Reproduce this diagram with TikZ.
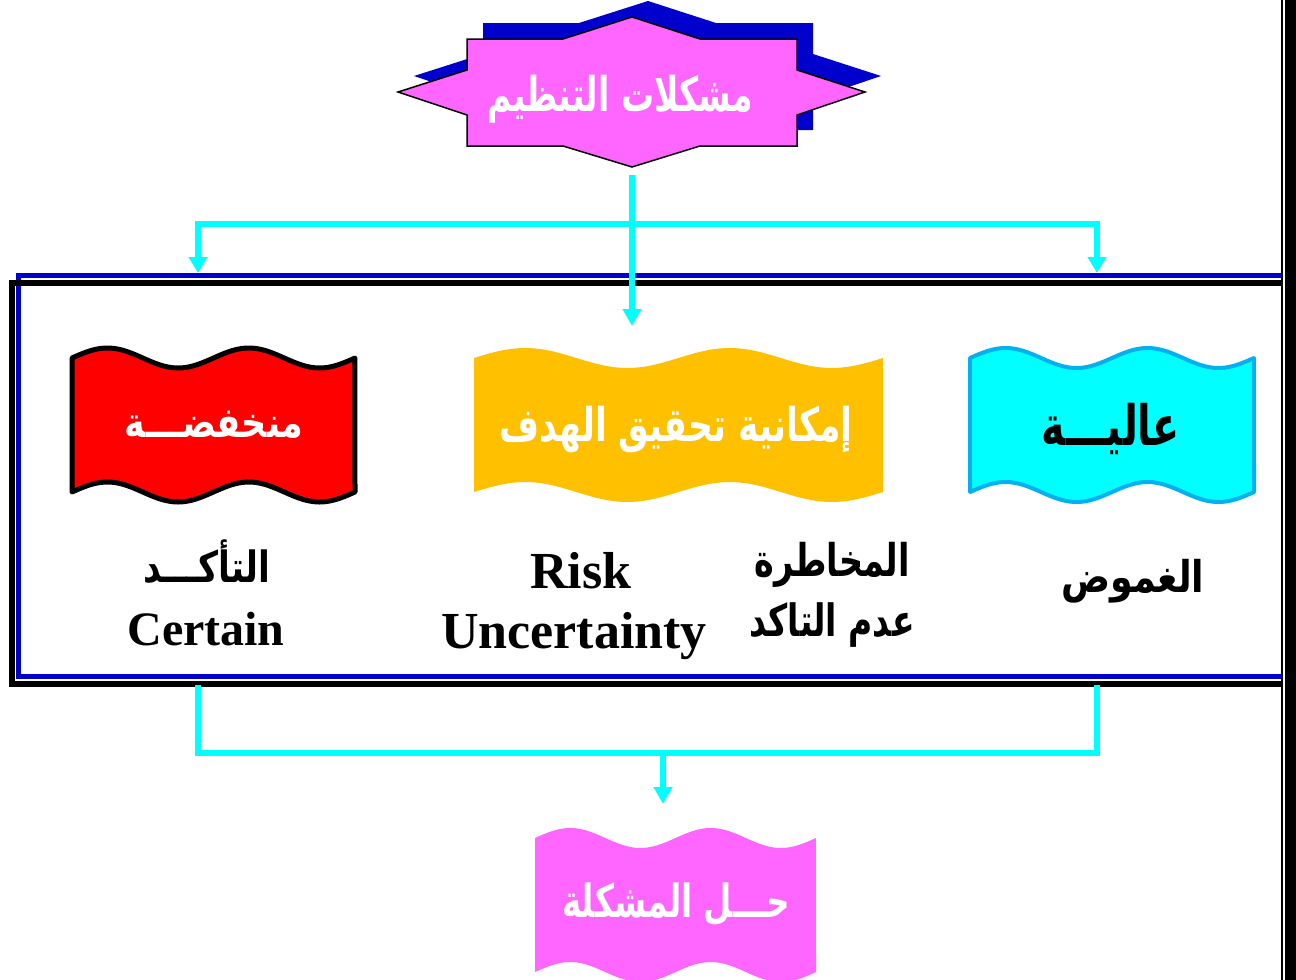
\documentclass[tikz,border=0pt]{standalone}
\usepackage{graphicx}
\usepackage{fontspec}
\setmainfont{Liberation Serif}
\newfontfamily\arabicfont[Script=Arabic]{DejaVu Sans}
\TeXXeTstate=1
\usetikzlibrary{arrows.meta}
\definecolor{pinkf}{HTML}{FF66FF}
\definecolor{shadowb}{HTML}{0000CC}
\definecolor{cyanc}{HTML}{00FFFF}
\definecolor{redf}{HTML}{FF0000}
\definecolor{yellowf}{HTML}{FFC000}
\definecolor{cyanline}{HTML}{00B0F0}
% #1 width, #2 vertical stretch, #3 text (already wrapped in \beginR..\endR)
\newcommand\artext[3]{\scalebox{1}[#2]{\resizebox{#1pt}{!}{\arabicfont\bfseries #3}}}
\newcommand\wavebox[6]{%
  \path[#6] plot[domain=0:1,samples=81] ({#1+#2*\x},{#3-#5*sin(720*\x)})
    -- plot[domain=1:0,samples=81] ({#1+#2*\x},{#4-#5*sin(720*\x)}) -- cycle;}
\begin{document}
\begin{tikzpicture}[x=1pt,y=-1pt,
  conn/.style={draw=cyanc, line width=6pt, line join=miter},
  tipc/.style={-{Triangle[width=18pt,length=17pt]}},
  wtxt/.style={text=white, inner sep=0pt},
  btxt/.style={text=black, inner sep=0pt},
  lat/.style={text=black, inner sep=0pt, anchor=base, font=\bfseries\fontsize{52}{56}\selectfont}]
\useasboundingbox (0,0) rectangle (1296,980);
\fill[white] (0,0) rectangle (1296,980);

% page border on the right
\draw[black, line width=1.5pt] (1282,0) -- (1282,980);
\fill[black] (1285,0) rectangle (1300,980);

% big frame
\draw[shadowb, line width=5pt] (1281,275) -- (18,275) -- (18,676) -- (1281,676);
\draw[black, line width=6pt] (1281,283) -- (12,283) -- (12,684) -- (1281,684);

% top star with shadow
\fill[shadowb, shift={(16,-16)}] (467,39) -- (563,39) -- (632,17) -- (700,39) -- (797,39) -- (797,70) -- (865,92) -- (797,115) -- (797,146) -- (700,146) -- (632,167) -- (563,146) -- (467,146) -- (467,115) -- (398,92) -- (467,70) -- cycle;
\draw[black, line width=1.5pt, fill=pinkf] (467,39) -- (563,39) -- (632,17) -- (700,39) -- (797,39) -- (797,70) -- (865,92) -- (797,115) -- (797,146) -- (700,146) -- (632,167) -- (563,146) -- (467,146) -- (467,115) -- (398,92) -- (467,70) -- cycle;
\node[wtxt] (top) at (620,99) {\artext{265}{1.45}{\beginR مشكلات التنظيم\endR}};
\coordinate (topout) at (632,175);

% flags
\wavebox{72}{283}{358}{492}{10}{draw=black, line width=5pt, fill=redf, line join=round}
\wavebox{474}{409}{358}{492}{10}{fill=yellowf}
\wavebox{970}{284}{358}{492}{10}{draw=cyanline, line width=4pt, fill=cyanc, line join=round}
\wavebox{535}{281}{838}{972}{10}{fill=pinkf}

\node[wtxt] (low) at (214,425) {\artext{178}{1.2}{\beginR منخفضـــة\endR}};
\node[wtxt] (mid) at (676,430) {\artext{353}{1.35}{\beginR إمكانية تحقيق الهدف\endR}};
\node[btxt] (high) at (1111,429) {\artext{138}{1.4}{\beginR عاليـــة\endR}};
\node[wtxt] (sol) at (676,904) {\artext{228}{1.4}{\beginR حـــل المشكلة\endR}};

% labels under flags
\node[btxt] (certar) at (207,562) {\artext{127}{1.25}{\beginR التأكـــد\endR}};
\node[lat, font=\bfseries\fontsize{48}{52}\selectfont] (cert) at (206,645) {Certain};
\node[lat] (risk) at (581,588) {Risk};
\node[lat] (unc) at (574,648) {Uncertainty};
\node[btxt] (riskar) at (832,565) {\artext{155}{1.35}{\beginR المخاطرة\endR}};
\node[btxt] (uncar) at (832,625) {\artext{165}{1.35}{\beginR عدم التاكد\endR}};
\node[btxt] (amb) at (1133,581) {\artext{143}{1.2}{\beginR الغموض\endR}};

% connectors top
\coordinate (hl) at (198,224);
\coordinate (hr) at (1097,224);
\coordinate (ltip) at (198,273);
\coordinate (rtip) at (1097,273);
\coordinate (mtip) at (632,326);
\draw[conn, {Triangle[width=18pt,length=16pt]}-{Triangle[width=18pt,length=16pt]}] (ltip) -- (hl) -- (hr) -- (rtip);
\draw[conn, tipc] (topout) -- (mtip);

% connectors bottom
\coordinate (bl) at (198,685);
\coordinate (br) at (1097,685);
\coordinate (bbl) at (198,753);
\coordinate (bbr) at (1097,753);
\coordinate (bm) at (663,753);
\coordinate (btip) at (663,804);
\draw[conn] (bl) -- (bbl) -- (bbr) -- (br);
\draw[conn, tipc] (bm) -- (btip);
\end{tikzpicture}
\end{document}
